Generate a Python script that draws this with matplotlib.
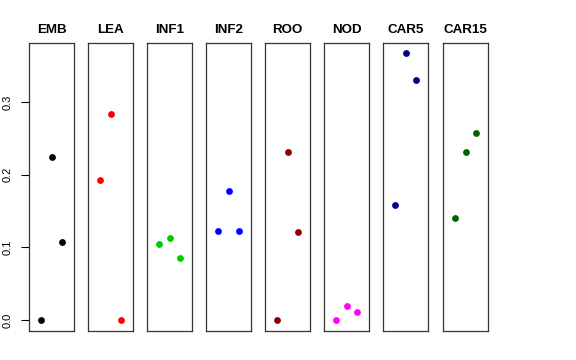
import numpy as np
import matplotlib.pyplot as plt

plt.rcParams['font.family'] = ['Liberation Sans', 'DejaVu Sans']

tissues = ['EMB', 'LEA', 'INF1', 'INF2', 'ROO', 'NOD', 'CAR5', 'CAR15']
colors = ['black', 'red', '#00CD00', 'blue', '#8B0000', 'magenta', '#000080', '#006400']
xs = [1, 2, 3]
emb = [0.0, 0.224, 0.108]
lea = [0.193, 0.283, 0.0]
inf1 = [0.105, 0.113, 0.086]
inf2 = [0.123, 0.178, 0.122]
roo = [0.0, 0.231, 0.121]
nod = [0.0, 0.019, 0.011]
car5 = [0.158, 0.367, 0.330]
car15 = [0.141, 0.231, 0.257]
values = [emb, lea, inf1, inf2, roo, nod, car5, car15]

fig = plt.figure(figsize=(5.76, 3.6), dpi=100)
W, H = 576, 360
lefts = [29, 88, 147, 206, 265, 324, 383, 443]
top, bottom, width = 43, 331, 45

for i, (name, col, ys) in enumerate(zip(tissues, colors, values)):
    ax = fig.add_axes([lefts[i] / W, 1 - bottom / H, width / W, (bottom - top) / H])
    ax.scatter(xs, ys, s=24, color=col, zorder=3, linewidths=0)
    ax.set_xlim(-0.16, 4.16)
    ax.set_ylim(-0.0151, 0.3813)
    ax.set_xticks([])
    ax.set_title(name, fontsize=9.6, fontweight='bold', pad=7)
    for s in ax.spines.values():
        s.set_linewidth(0.9)
        s.set_color('#333333')
    if i == 0:
        ax.set_yticks([0.0, 0.1, 0.2, 0.3])
        ax.tick_params(axis='y', length=5.8, width=0.8, pad=6, labelsize=8, labelrotation=90)
        for lab in ax.get_yticklabels():
            lab.set_va('center')
    else:
        ax.set_yticks([])

fig.savefig('out.png', dpi=100)
